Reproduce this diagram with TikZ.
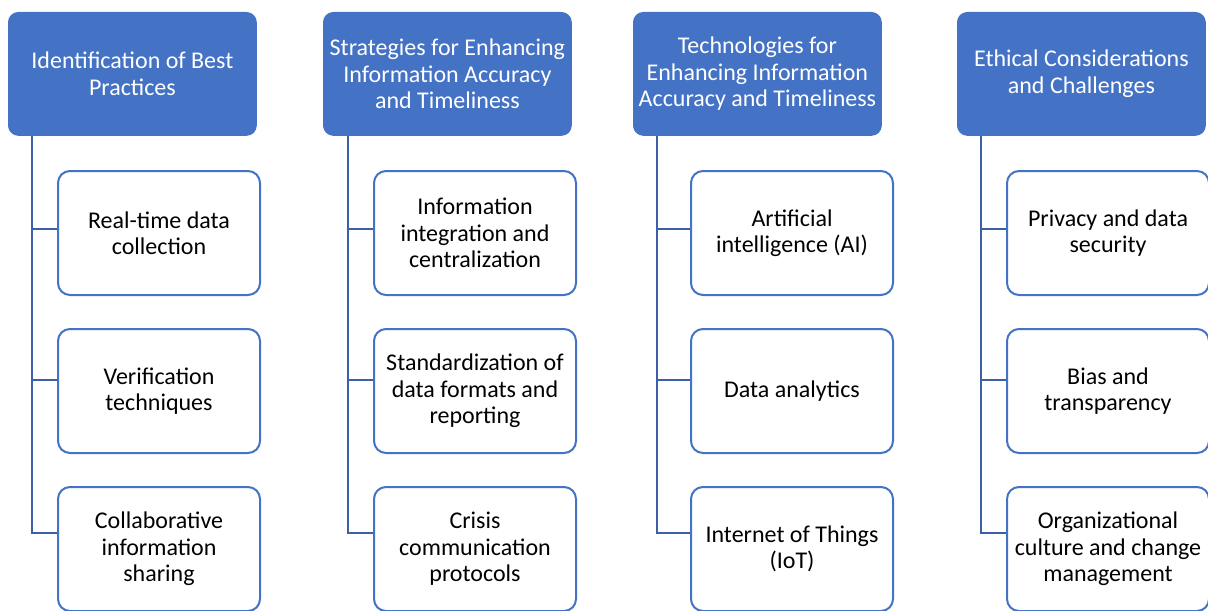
\documentclass[tikz,border=0pt]{standalone}
\usepackage{fontspec}
\setmainfont{Carlito}
\definecolor{headblue}{RGB}{68,114,196}
\definecolor{linkblue}{RGB}{60,96,166}
\tikzset{
  head/.style={draw=headblue, fill=headblue, rounded corners=5pt, text=white,
    align=center, anchor=north west, inner sep=0pt,
    minimum width=124pt, minimum height=61.5pt,
    font=\fontsize{12}{13.2}\selectfont},
  item/.style={draw=headblue, line width=1pt, fill=white, rounded corners=6pt,
    align=center, anchor=north west, inner sep=0pt,
    minimum width=101pt, minimum height=62pt,
    font=\fontsize{12}{13.2}\selectfont},
  link/.style={draw=linkblue, line width=1.1pt}
}
\begin{document}
\begin{tikzpicture}[x=0.5pt,y=-0.5pt]
\useasboundingbox (0,0) rectangle (1208,610);
% top row
\node[head] (h1) at (8,12) {Identification of Best\\Practices};
\node[head] (h2) at (323,12) {Strategies for Enhancing\\Information Accuracy\\and Timeliness};
\node[head] (h3) at (633,12) {Technologies for\\Enhancing Information\\Accuracy and Timeliness};
\node[head] (h4) at (957,12) {Ethical Considerations\\and Challenges};
% children
\node[item] (c11) at (57,170) {Real-time data\\collection};
\node[item] (c12) at (57,328) {Verification\\techniques};
\node[item] (c13) at (57,486) {Collaborative\\information\\sharing};
\node[item] (c21) at (373,170) {Information\\integration and\\centralization};
\node[item] (c22) at (373,328) {Standardization of\\data formats and\\reporting};
\node[item] (c23) at (373,486) {Crisis\\communication\\protocols};
\node[item] (c31) at (690,170) {Artificial\\intelligence (AI)};
\node[item] (c32) at (690,328) {Data analytics};
\node[item] (c33) at (690,486) {Internet of Things\\(IoT)};
\node[item] (c41) at (1006,170) {Privacy and data\\security};
\node[item] (c42) at (1006,328) {Bias and\\transparency};
\node[item] (c43) at (1006,486) {Organizational\\culture and change\\management};
% connectors
\draw[link] ([xshift=12pt]h1.south west) |- ([yshift=2pt]c11.west);
\draw[link] ([xshift=12pt]h1.south west) |- ([yshift=5.5pt]c12.west);
\draw[link] ([xshift=12pt]h1.south west) |- ([yshift=8pt]c13.west);
\draw[link] ([xshift=12.5pt]h2.south west) |- ([yshift=2pt]c21.west);
\draw[link] ([xshift=12.5pt]h2.south west) |- ([yshift=5.5pt]c22.west);
\draw[link] ([xshift=12.5pt]h2.south west) |- ([yshift=8pt]c23.west);
\draw[link] ([xshift=12pt]h3.south west) |- ([yshift=2pt]c31.west);
\draw[link] ([xshift=12pt]h3.south west) |- ([yshift=5.5pt]c32.west);
\draw[link] ([xshift=12pt]h3.south west) |- ([yshift=8pt]c33.west);
\draw[link] ([xshift=12pt]h4.south west) |- ([yshift=2pt]c41.west);
\draw[link] ([xshift=12pt]h4.south west) |- ([yshift=5.5pt]c42.west);
\draw[link] ([xshift=12pt]h4.south west) |- ([yshift=8pt]c43.west);
\end{tikzpicture}
\end{document}
